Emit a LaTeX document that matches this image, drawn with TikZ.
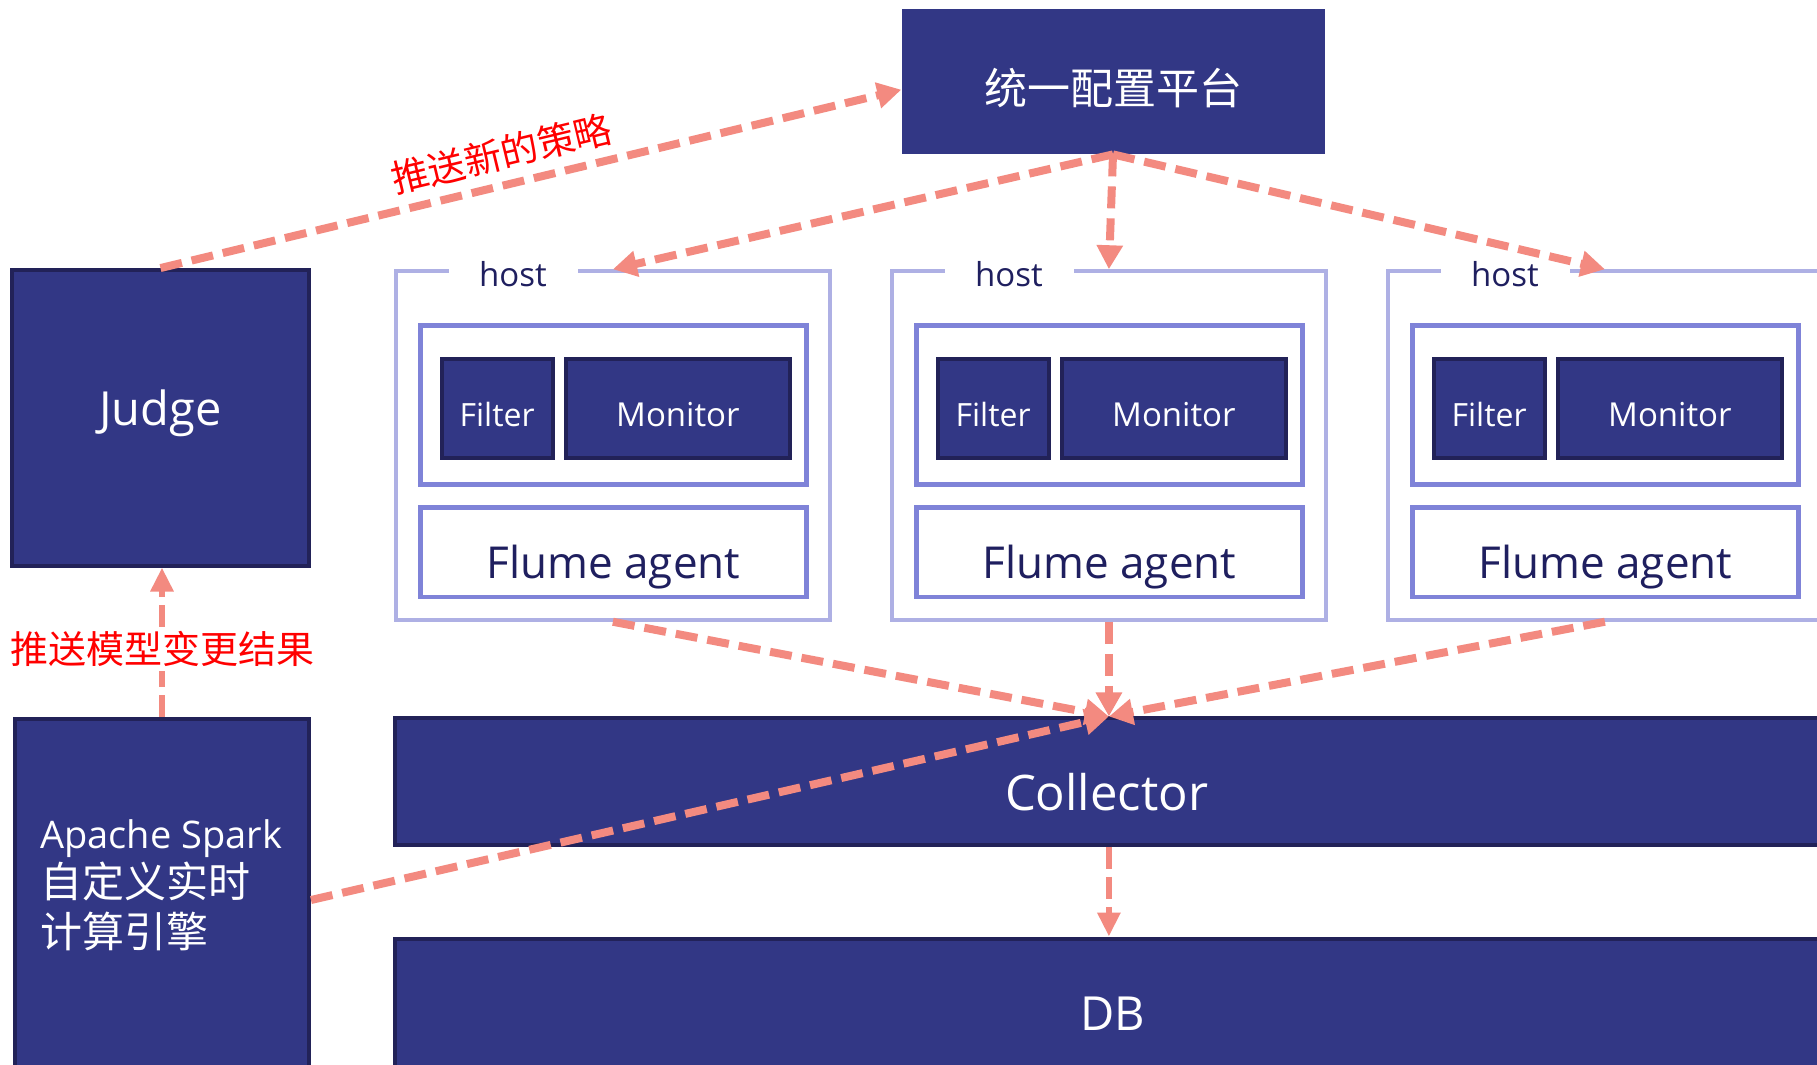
\documentclass[tikz,border=0pt]{standalone}
\usepackage{fontspec}
\setmainfont{Open Sans}
\newfontfamily\cjk{Noto Sans CJK SC}
\usetikzlibrary{arrows.meta}
\definecolor{navy}{HTML}{323785}
\definecolor{navyd}{HTML}{222258}
\definecolor{hostc}{HTML}{AEB0E4}
\definecolor{innerc}{HTML}{7F83D8}
\definecolor{txtd}{HTML}{1F1F5F}
\definecolor{arrowc}{HTML}{F38A80}
\newcommand\fsz[1]{\fontsize{#1}{#1}\selectfont}
\begin{document}
\begin{tikzpicture}[x=1pt,y=-1pt,
  darkbox/.style={fill=navy, draw=navyd, line width=4pt, inner sep=0pt, text=white},
  hostbox/.style={draw=hostc, line width=3.5pt, inner sep=0pt, minimum width=433.7pt, minimum height=349pt},
  innerbox/.style={draw=innerc, line width=4.5pt, fill=white, inner sep=0pt, minimum width=386pt},
  hostlbl/.style={fill=white, inner sep=0pt, minimum width=129pt, minimum height=22pt, text=txtd, font=\fsz{33pt}},
  flow/.style={draw=arrowc, line width=8pt, dash pattern=on 22pt off 10pt, -{Triangle[length=24pt,width=25pt]}},
  flowv/.style={draw=arrowc, line width=6pt, dash pattern=on 22pt off 8pt, -{Triangle[length=24pt,width=22pt]}},
  redlbl/.style={text=red, inner sep=0pt}
]
\useasboundingbox (0,0) rectangle (1817,1065);
\clip (0,0) rectangle (1817,1065);
\fill[white] (0,0) rectangle (1817,1065);

% config platform
\node[fill=navy, inner sep=0pt, minimum width=423pt, minimum height=145pt,
  label={[text=white, font=\cjk\fsz{43pt}, yshift=-6pt]center:统一配置平台}] (cfg) at (1113,81.7) {};

% Judge
\node[darkbox, minimum width=297.8pt, minimum height=295.5pt,
  label={[text=white, font=\fsz{47pt}, yshift=5pt]center:Judge}] (judge) at (160.5,417.8) {};

% Spark
\node[darkbox, minimum width=294pt, minimum height=363pt] (spark) at (162,900) {};
\node[anchor=west, align=left, text=white, inner sep=0pt, font=\fontsize{40pt}{49.5pt}\selectfont] (sparktext) at (40,885)
 {{\fontsize{38pt}{49.5pt}\selectfont Apache Spark}\\
  {\cjk\fontsize{42pt}{49.5pt}\selectfont 自定义实时}\\
  {\cjk\fontsize{42pt}{49.5pt}\selectfont 计算引擎}};

% Collector and DB
\node[darkbox, minimum width=1435pt, minimum height=126.5pt,
  label={[text=white, font=\fsz{49pt}, yshift=-10pt, xshift=-6pt]center:Collector}] (collector) at (1112.5,781.7) {};
\node[darkbox, minimum width=1435pt, minimum height=141pt,
  label={[text=white, font=\fsz{47pt}, yshift=-5pt]center:DB}] (db) at (1112.5,1009) {};

% hosts
\foreach \i/\dx in {1/0,2/496,3/992}{
  \node[hostbox] (host\i) at (612.9+\dx,445.5) {};
  \node[hostlbl] (hl\i) at (513+\dx,274) {host};
  \node[innerbox, minimum height=158.8pt] (inner\i) at (613.5+\dx,405) {};
  \node[darkbox, minimum width=111.2pt, minimum height=98.7pt,
    label={[text=white, font=\fsz{32pt}, yshift=-6pt]center:Filter}] (filter\i) at (497.1+\dx,408.4) {};
  \node[darkbox, minimum width=224.8pt, minimum height=98.7pt,
    label={[text=white, font=\fsz{33pt}, yshift=-6pt]center:Monitor}] (monitor\i) at (677.9+\dx,408.4) {};
  \node[innerbox, minimum height=89.3pt,
    label={[text=txtd, font=\fsz{44pt}, yshift=-15pt]center:Flume agent}] (flume\i) at (613.5+\dx,552.2) {};
}

\coordinate (cin) at (host2.south |- collector.north);
\coordinate (cout) at (host2.south |- collector.south);
\coordinate (dbin) at (host2.south |- db.north);
\coordinate (cfgin) at ([yshift=-8pt]cfg.west);

% arrows
\draw[flow] (judge.north) -- node[pos=0.47, sloped, above=10pt, redlbl, font=\cjk\fsz{37.5pt}] (lbl1) {推送新的策略} (cfgin);
\foreach \i in {1,2,3}{
  \draw[flow] (cfg.south) -- (host\i.north);
  \draw[flow] (host\i.south) -- (cin);
}
\draw[flow] (spark.east) -- (cin);
\draw[flowv] (cout) -- (dbin);
\draw[flowv] (spark.north) -- node[pos=0.454, fill=white, redlbl, font=\cjk\fsz{38pt}, inner ysep=4pt] (lbl2) {推送模型变更结果} (spark.north |- judge.south);
\end{tikzpicture}
\end{document}
